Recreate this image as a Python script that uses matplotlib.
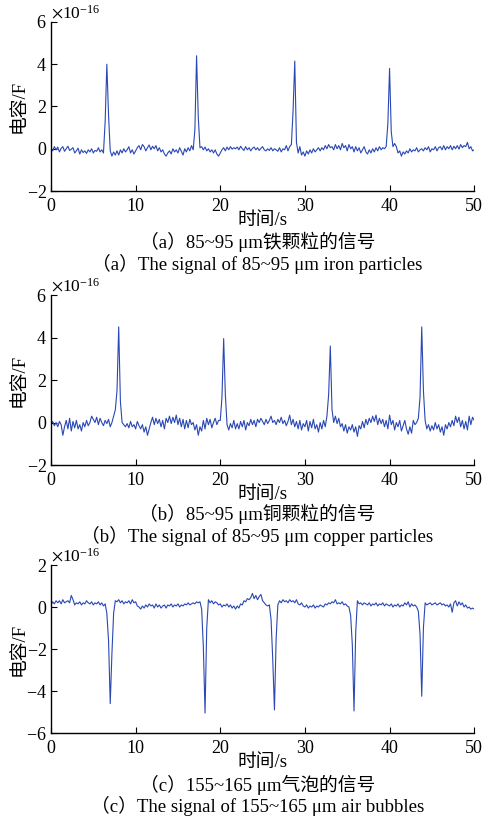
import numpy as np
import matplotlib
matplotlib.use("Agg")
from matplotlib import pyplot as plt
from matplotlib.ticker import ScalarFormatter

plt.rcParams['mathtext.fontset'] = 'stix'
plt.rcParams['font.family'] = ['Liberation Serif', 'Noto Sans CJK SC']

# sampling grid, one point every 0.2 s
t = np.linspace(0, 50, 251)

# capacitance readings in units of 1e-16 F
iron = [
    0.05, -0.1, 0.1, -0.05, 0.08, -0.15, 0.02, 0.1, -0.12, 0.0,
    0.12, -0.08, -0.02, 0.05, -0.2, -0.1, 0.03, -0.25, -0.05, -0.18,
    -0.1, -0.22, -0.05, -0.15, 0.0, -0.2, -0.08, -0.12, 0.05, -0.15,
    -0.05, -0.2, 1.3, 4.0, 1.6, -0.1, -0.35, -0.15, -0.3, -0.1,
    -0.3, -0.05, -0.2, 0.0, -0.15, -0.05, 0.1, -0.2, -0.05, -0.25,
    -0.1, 0.05, 0.15, -0.05, 0.2, 0.1, -0.1, 0.05, 0.18, -0.05,
    0.12, 0.0, 0.15, -0.1, 0.05, -0.15, -0.05, -0.25, -0.35, -0.2,
    -0.1, -0.25, 0.0, -0.15, -0.05, -0.2, 0.05, -0.12, -0.3, 0.0,
    -0.15, 0.05, -0.1, 0.15, -0.05, 0.9, 4.4, 1.5, 0.05, 0.1,
    -0.05, 0.08, -0.1, 0.0, -0.15, -0.05, -0.2, -0.05, -0.25, -0.35,
    -0.2, -0.05, 0.05, -0.1, 0.08, -0.05, 0.1, -0.02, 0.05, 0.0,
    0.08, -0.05, 0.12, 0.0, -0.08, 0.1, -0.05, 0.05, -0.1, 0.02,
    0.08, -0.05, 0.05, -0.08, 0.02, 0.1, -0.05, -0.1, 0.0, -0.08,
    0.05, -0.1, 0.0, -0.05, -0.12, 0.05, -0.15, 0.0, -0.05, 0.15,
    -0.1, 0.1, 0.2, 1.8, 4.15, 0.3, -0.2, 0.1, -0.3, -0.15,
    -0.35, -0.1, -0.25, -0.05, -0.2, 0.0, -0.15, -0.05, 0.05, -0.1,
    0.05, -0.05, 0.15, 0.0, 0.2, 0.05, 0.1, -0.05, 0.2, 0.0,
    0.15, -0.05, 0.25, 0.05, 0.15, -0.1, 0.2, 0.0, 0.1, -0.15,
    0.1, -0.1, 0.05, -0.2, -0.05, 0.1, -0.15, -0.25, -0.05, -0.2,
    0.0, -0.15, 0.05, -0.1, 0.1, -0.05, 0.05, 0.0, 0.1, 1.2,
    3.8, 0.8, 0.1, 0.25, 0.1, -0.2, -0.1, -0.35, -0.15, -0.25,
    -0.1, -0.2, 0.0, -0.15, -0.05, -0.1, 0.05, -0.15, -0.05, 0.0,
    -0.1, 0.05, -0.05, 0.1, -0.15, 0.0, -0.05, 0.1, -0.1, 0.05,
    0.1, -0.05, 0.15, -0.05, 0.1, 0.0, 0.15, -0.05, 0.12, 0.0,
    0.15, -0.02, 0.2, 0.05, 0.15, 0.1, 0.3, 0.0, 0.1, -0.1,
    -0.05,
]

copper = [
    -0.05, 0.05, -0.15, 0.0, -0.2, 0.05, -0.1, -0.6, -0.2, 0.1,
    -0.3, 0.2, -0.4, 0.05, -0.25, 0.1, -0.3, -0.1, -0.4, 0.0,
    -0.2, 0.1, -0.15, 0.0, 0.3, 0.15, 0.0, 0.25, -0.1, 0.2,
    0.0, -0.15, 0.1, -0.05, 0.15, -0.2, 0.0, 0.3, 0.6, 1.5,
    4.5, 1.0, 0.0, -0.1, -0.2, -0.05, -0.25, 0.05, -0.2, -0.1,
    -0.3, 0.05, -0.15, -0.3, -0.1, -0.45, -0.2, -0.6, -0.3, 0.0,
    0.25, -0.1, 0.2, -0.05, 0.15, -0.2, 0.1, -0.3, 0.2, 0.0,
    0.3, -0.05, 0.25, 0.0, 0.35, -0.1, 0.2, -0.2, 0.15, -0.3,
    0.1, -0.25, 0.15, -0.1, 0.0, -0.35, -0.1, -0.6, -0.2, -0.4,
    0.1, -0.3, 0.2, -0.1, 0.15, -0.25, 0.0, 0.2, -0.1, 0.1,
    0.1, 1.2, 3.95, 1.3, -0.1, -0.35, -0.05, -0.25, 0.1, -0.3,
    -0.05, -0.3, 0.05, -0.2, 0.1, -0.35, 0.0, -0.15, 0.15, -0.1,
    0.1, -0.2, 0.15, 0.0, 0.2, 0.05, -0.1, 0.15, -0.05, 0.1,
    0.3, 0.0, 0.1, -0.1, 0.15, 0.0, 0.25, -0.05, 0.1, -0.15,
    0.05, 0.35, -0.1, 0.15, -0.2, 0.05, -0.3, 0.1, -0.35, -0.05,
    -0.2, 0.1, -0.4, 0.05, -0.25, 0.15, -0.3, -0.1, -0.45, 0.0,
    -0.3, 0.1, -0.2, 0.3, 1.3, 3.6, 0.6, 0.0, 0.3, -0.05,
    0.2, -0.2, -0.05, -0.4, -0.1, -0.5, -0.2, -0.35, -0.1, -0.45,
    -0.2, -0.65, -0.15, -0.3, 0.05, -0.25, 0.15, -0.1, 0.2, 0.0,
    0.3, 0.05, 0.35, -0.1, 0.2, -0.05, 0.15, -0.2, 0.1, -0.3,
    0.35, -0.1, 0.1, -0.35, 0.0, -0.2, 0.1, -0.4, -0.15, 0.1,
    -0.3, -0.55, -0.2, -0.5, 0.1, -0.1, 0.0, 0.2, 1.2, 4.5,
    1.5, 0.1, -0.3, -0.1, -0.4, -0.15, -0.35, 0.0, -0.3, -0.1,
    -0.45, -0.2, -0.6, -0.1, -0.3, 0.0, -0.2, 0.1, -0.15, 0.3,
    0.0, 0.25, -0.2, 0.1, -0.3, 0.05, -0.35, 0.3, -0.1, 0.25,
    0.1,
]

bubble = [
    0.1, 0.25, 0.15, 0.3, 0.2, 0.3, 0.15, 0.35, 0.2, 0.25,
    0.3, 0.2, 0.55, 0.35, 0.1, 0.2, 0.15, 0.25, 0.1, 0.2,
    0.15, 0.3, 0.2, 0.15, 0.25, 0.1, 0.2, 0.15, 0.25, 0.1,
    0.2, 0.05, 0.15, -0.3, -1.6, -4.6, -2.2, -0.3, 0.3, 0.25,
    0.35, 0.2, 0.3, 0.15, 0.25, 0.2, 0.3, 0.15, 0.35, 0.2,
    0.25, 0.05, 0.0, -0.1, 0.05, -0.05, 0.1, 0.0, 0.15, 0.05,
    0.1, -0.05, 0.15, 0.0, 0.1, -0.05, 0.05, 0.1, -0.05, 0.1,
    0.05, 0.15, 0.0, 0.1, 0.05, 0.15, 0.0, 0.1, 0.05, 0.15,
    0.1, 0.2, 0.1, 0.15, 0.2, 0.15, 0.25, 0.2, 0.25, -0.1,
    -1.9, -5.05, -1.0, 0.35, 0.2, 0.3, 0.15, 0.25, 0.2, 0.1,
    0.15, 0.0, 0.1, 0.05, 0.15, 0.0, 0.1, -0.05, 0.05, -0.1,
    0.05, -0.05, 0.15, 0.1, 0.3, 0.25, 0.4, 0.35, 0.45, 0.65,
    0.4, 0.55, 0.35, 0.5, 0.6, 0.3, 0.2, 0.1, 0.05, 0.1,
    -0.6, -2.5, -4.9, -1.5, 0.1, 0.3, 0.2, 0.35, 0.25, 0.3,
    0.2, 0.35, 0.25, 0.3, 0.2, 0.35, 0.15, 0.1, 0.2, 0.05,
    0.0, 0.1, -0.05, 0.05, 0.0, 0.1, -0.05, 0.05, 0.0, 0.1,
    0.05, 0.0, 0.15, 0.1, 0.2, 0.15, 0.25, 0.2, 0.35, 0.15,
    0.2, 0.15, 0.25, 0.1, 0.15, 0.05, 0.0, -0.4, -1.8, -4.95,
    -1.2, 0.3, 0.15, 0.2, 0.1, 0.2, 0.15, 0.1, 0.2, 0.05,
    0.15, 0.1, 0.2, 0.05, 0.15, 0.1, 0.2, 0.05, 0.15, 0.1,
    0.05, 0.15, 0.0, 0.1, 0.05, 0.15, 0.0, 0.1, 0.05, 0.2,
    0.1, 0.25, 0.0, 0.15, 0.05, 0.1, 0.0, -0.2, -1.3, -4.25,
    -1.0, 0.2, 0.1, 0.15, 0.2, 0.1, 0.15, 0.2, 0.1, 0.15,
    0.2, 0.1, 0.15, 0.05, 0.1, 0.0, 0.15, -0.25, 0.2, 0.3,
    0.05, 0.25, 0.1, 0.2, 0.0, 0.1, -0.05, 0.0, -0.1, -0.05,
    -0.1,
]

signals = [iron, copper, bubble]
ylims = [(-2, 6), (-2, 6), (-6, 2)]
cn_caps = ['（a）85~95 μm铁颗粒的信号',
           '（b）85~95 μm铜颗粒的信号',
           '（c）155~165 μm气泡的信号']
en_caps = ['（a）The signal of 85~95 μm iron particles',
           '（b）The signal of 85~95 μm copper particles',
           '（c）The signal of 155~165 μm air bubbles']

# axes boxes in figure fractions and caption heights
boxes = [[0.103, 0.7662, 0.855, 0.2069],
         [0.103, 0.4308, 0.855, 0.2081],
         [0.103, 0.1028, 0.855, 0.2056]]
cap_y = [(0.7038, 0.6770), (0.3709, 0.3440), (0.0390, 0.0135)]

fig = plt.figure(figsize=(4.95, 8.17), dpi=100)

for i in range(3):
    ax = fig.add_axes(boxes[i])
    ax.plot(t, np.array(signals[i]) * 1e-16, color='#2a48b4', lw=0.8)
    ax.set_xlim(0, 50)
    lo, hi = ylims[i]
    ax.set_ylim(lo * 1e-16, hi * 1e-16)
    ax.set_xticks(np.arange(0, 51, 10))
    ax.set_yticks(np.arange(lo, hi + 1, 2) * 1e-16)
    fmt = ScalarFormatter(useMathText=True)
    fmt.set_powerlimits((0, 0))
    ax.yaxis.set_major_formatter(fmt)
    ax.yaxis.get_offset_text().set_fontsize(12.5)
    for side in ['top', 'right']:
        ax.spines[side].set_visible(False)
    for side in ['left', 'bottom']:
        ax.spines[side].set_linewidth(1.0)
    ax.tick_params(direction='in', length=4, width=0.8, labelsize=13)
    ax.tick_params(axis='x', pad=5)
    ax.tick_params(axis='y', pad=3)
    ax.set_xlabel('时间/s', fontsize=13.5, labelpad=-2)
    ax.set_ylabel('电容/F', fontsize=13.5, labelpad=-1)
    fig.text(0.52, cap_y[i][0], cn_caps[i], ha='center', va='center', fontsize=13.5)
    fig.text(0.52, cap_y[i][1], en_caps[i], ha='center', va='center', fontsize=13.5)

fig.savefig('out.png', dpi=100)
